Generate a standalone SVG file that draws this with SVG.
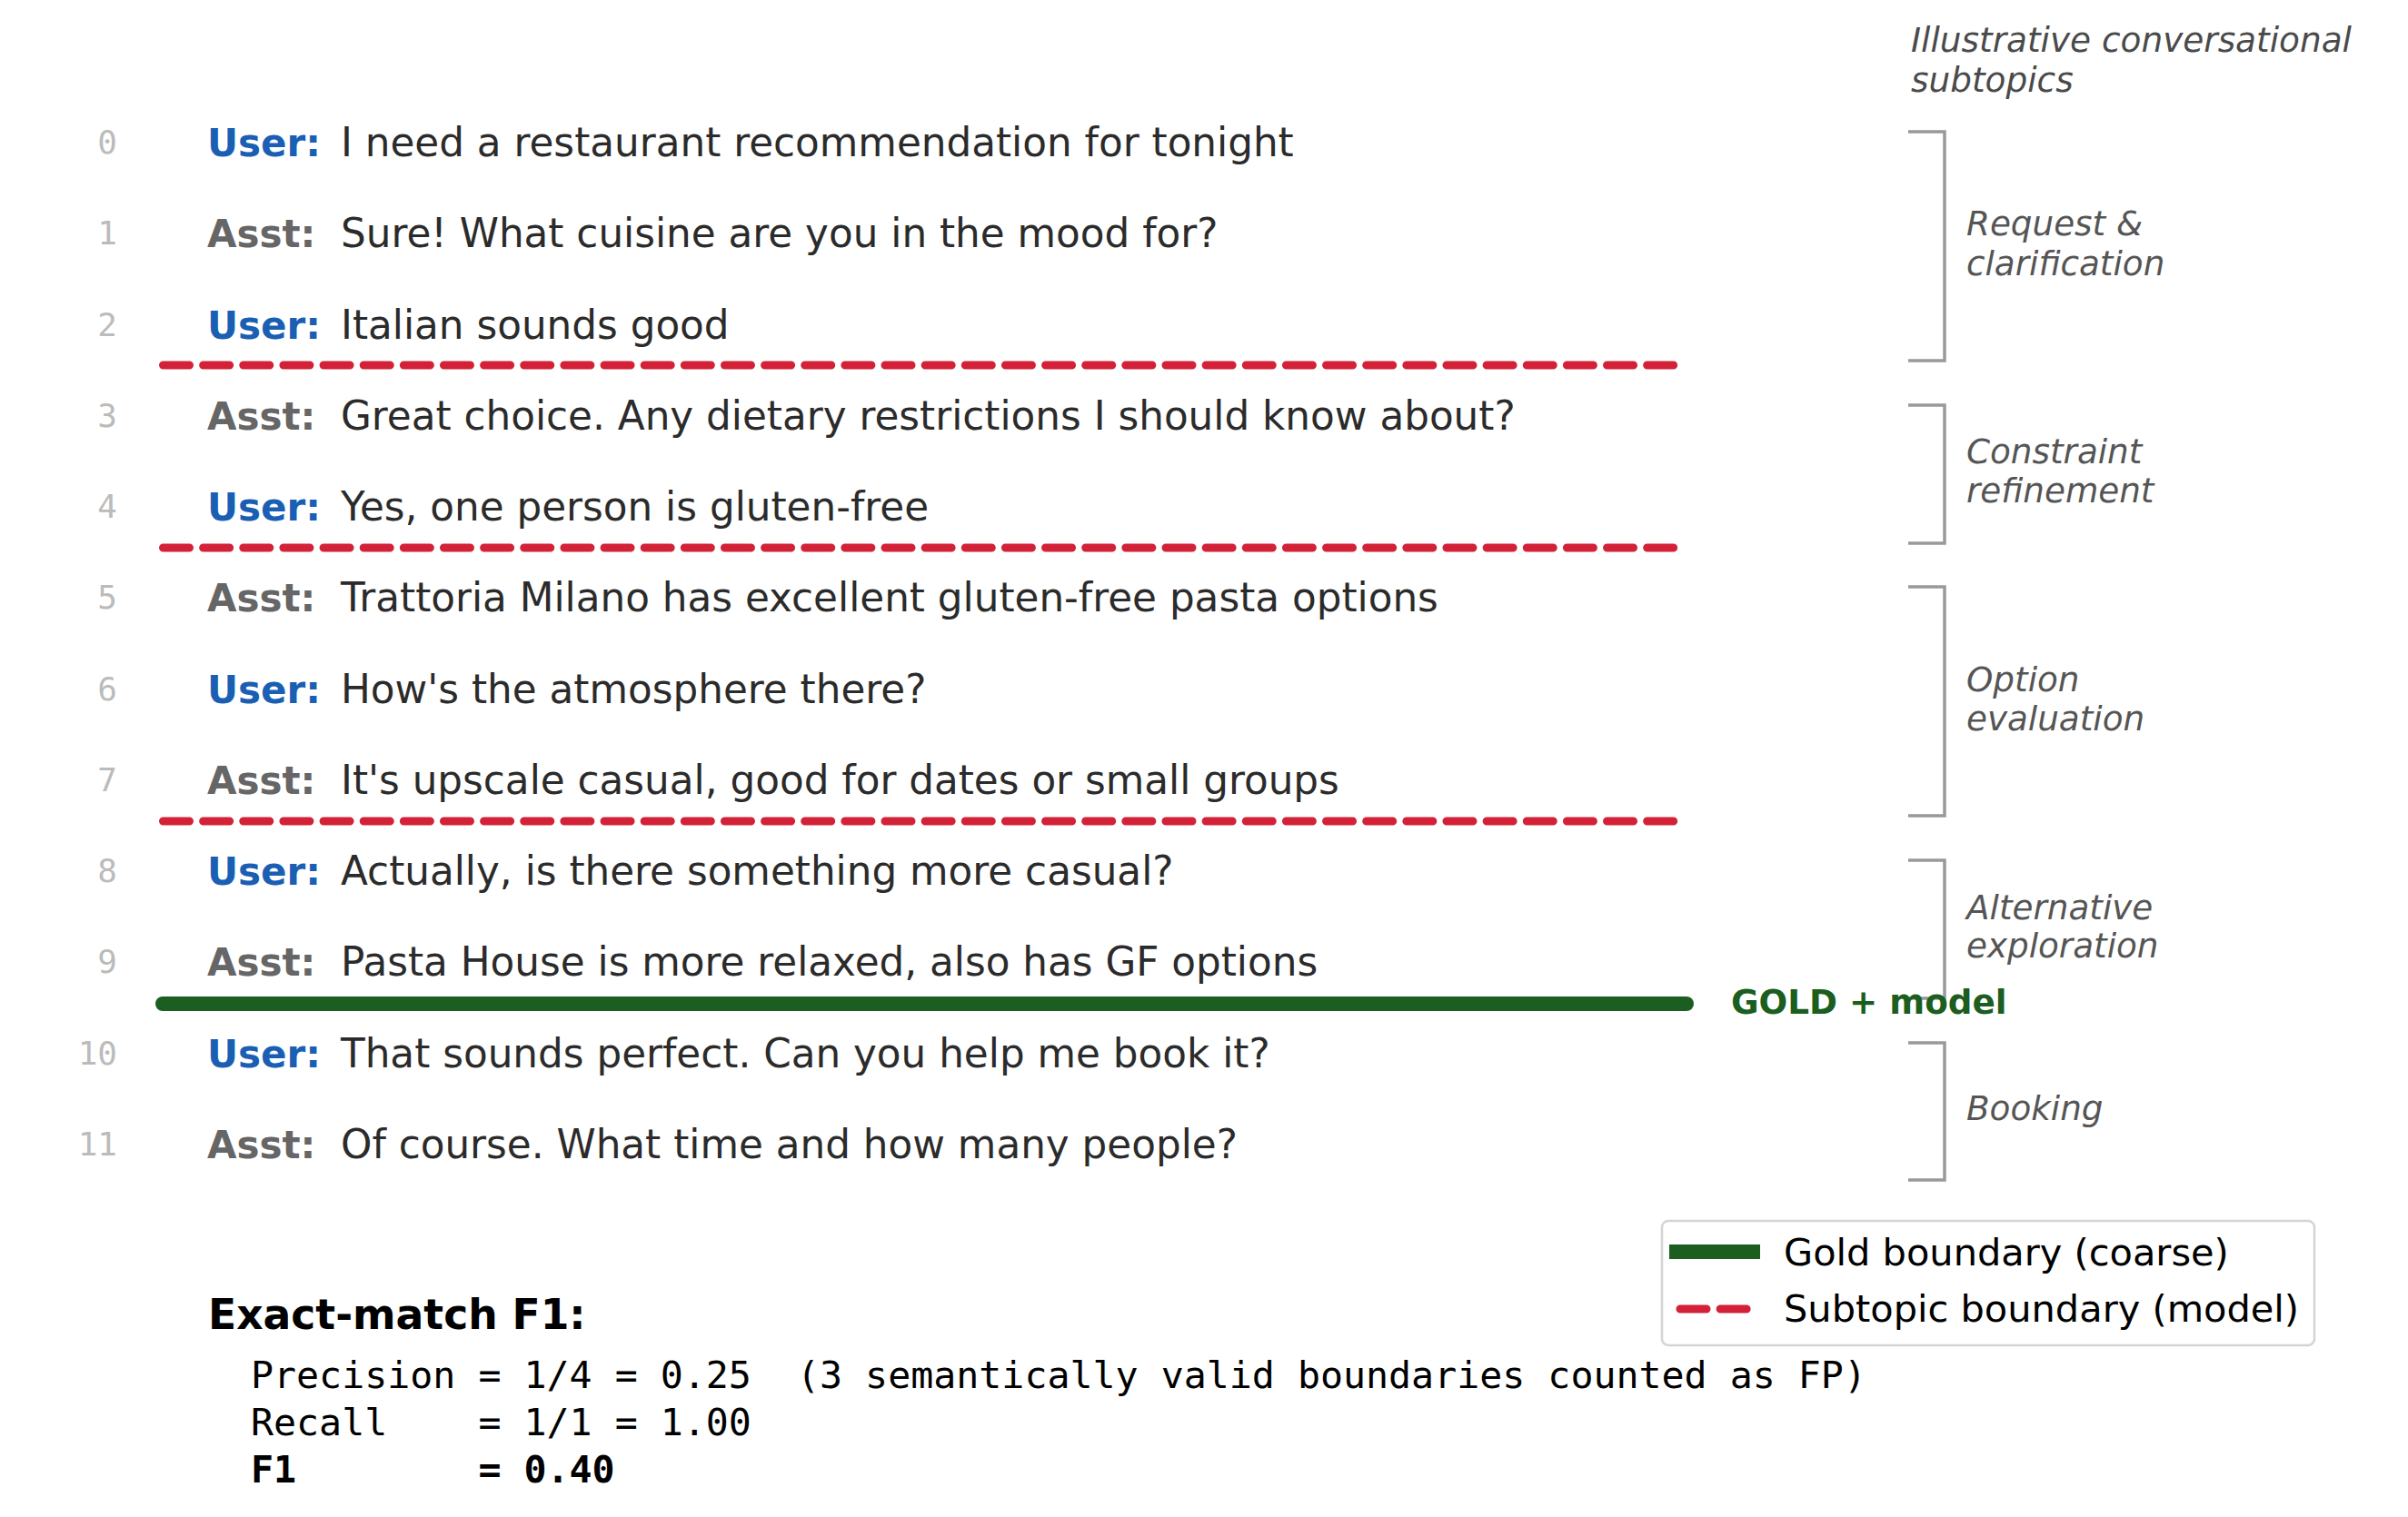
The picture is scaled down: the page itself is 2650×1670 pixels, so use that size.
<svg xmlns="http://www.w3.org/2000/svg" width="2650" height="1670" viewBox="0 0 2650 1670">
<style>
.num{font-family:"DejaVu Sans Mono",monospace;font-size:36px;fill:#bbbbbb;text-anchor:end}
.user{font-family:"DejaVu Sans",sans-serif;font-weight:bold;font-size:42px;fill:#1a5fb4}
.asst{font-family:"DejaVu Sans",sans-serif;font-weight:bold;font-size:42px;fill:#666666}
.msg{font-family:"DejaVu Sans",sans-serif;font-size:43.7px;fill:#2b2b2b}
.brk{fill:none;stroke:#999999;stroke-width:3.5}
.lbl{font-family:"DejaVu Sans",sans-serif;font-style:italic;font-size:37.3px;fill:#555555}
.hdr{font-family:"DejaVu Sans",sans-serif;font-style:italic;font-size:37.4px;fill:#4a4a4a}
.model{stroke:#d32237;stroke-width:9;stroke-linecap:round;stroke-dasharray:29 15.14;fill:none}
.gold{stroke:#1b5e20;stroke-width:16;stroke-linecap:round;fill:none}
.goldtxt{font-family:"DejaVu Sans",sans-serif;font-weight:bold;font-size:37.3px;fill:#1b5e20}
.leg{font-family:"DejaVu Sans",sans-serif;font-size:41.5px;fill:#000000}
.mono{font-family:"DejaVu Sans Mono",monospace;font-size:41.6px;fill:#000000}
.title{font-family:"DejaVu Sans",sans-serif;font-weight:bold;font-size:45.6px;fill:#000000}
</style>
<rect x="0" y="0" width="2650" height="1670" fill="#ffffff"/>

<g id="header">
<text class="hdr" x="2103" y="57">Illustrative conversational</text>
<text class="hdr" x="2103" y="101">subtopics</text>
</g>

<g id="brackets">
<g id="subtopic-request">
<polyline class="brk" points="2100,145 2140,145 2140,397 2100,397"/>
<text class="lbl" x="2164" y="259">Request &amp;</text>
<text class="lbl" x="2164" y="303">clarification</text>
</g>
<g id="subtopic-constraint">
<polyline class="brk" points="2100,446 2140,446 2140,598 2100,598"/>
<text class="lbl" x="2164" y="510">Constraint</text>
<text class="lbl" x="2164" y="553">refinement</text>
</g>
<g id="subtopic-option">
<polyline class="brk" points="2100,646 2140,646 2140,898 2100,898"/>
<text class="lbl" x="2164" y="761">Option</text>
<text class="lbl" x="2164" y="804">evaluation</text>
</g>
<g id="subtopic-alternative">
<polyline class="brk" points="2100,947 2140,947 2140,1099 2100,1099"/>
<text class="lbl" x="2164" y="1012">Alternative</text>
<text class="lbl" x="2164" y="1054">exploration</text>
</g>
<g id="subtopic-booking">
<polyline class="brk" points="2100,1148 2140,1148 2140,1299 2100,1299"/>
<text class="lbl" x="2164" y="1233">Booking</text>
</g>
</g>

<g id="turns">
<g id="turn-0"><text class="num" x="129" y="169">0</text><text class="user" x="228" y="172">User:</text><text class="msg" x="375" y="172">I need a restaurant recommendation for tonight</text></g>
<g id="turn-1"><text class="num" x="129" y="269">1</text><text class="asst" x="228" y="272">Asst:</text><text class="msg" x="375" y="272">Sure! What cuisine are you in the mood for?</text></g>
<g id="turn-2"><text class="num" x="129" y="370">2</text><text class="user" x="228" y="373">User:</text><text class="msg" x="375" y="373">Italian sounds good</text></g>
<g id="turn-3"><text class="num" x="129" y="470">3</text><text class="asst" x="228" y="473">Asst:</text><text class="msg" x="375" y="473">Great choice. Any dietary restrictions I should know about?</text></g>
<g id="turn-4"><text class="num" x="129" y="570">4</text><text class="user" x="228" y="573">User:</text><text class="msg" x="375" y="573">Yes, one person is gluten-free</text></g>
<g id="turn-5"><text class="num" x="129" y="670">5</text><text class="asst" x="228" y="673">Asst:</text><text class="msg" x="375" y="673">Trattoria Milano has excellent gluten-free pasta options</text></g>
<g id="turn-6"><text class="num" x="129" y="771">6</text><text class="user" x="228" y="774">User:</text><text class="msg" x="375" y="774">How's the atmosphere there?</text></g>
<g id="turn-7"><text class="num" x="129" y="871">7</text><text class="asst" x="228" y="874">Asst:</text><text class="msg" x="375" y="874">It's upscale casual, good for dates or small groups</text></g>
<g id="turn-8"><text class="num" x="129" y="971">8</text><text class="user" x="228" y="974">User:</text><text class="msg" x="375" y="974">Actually, is there something more casual?</text></g>
<g id="turn-9"><text class="num" x="129" y="1071">9</text><text class="asst" x="228" y="1074">Asst:</text><text class="msg" x="375" y="1074">Pasta House is more relaxed, also has GF options</text></g>
<g id="turn-10"><text class="num" x="129" y="1172">10</text><text class="user" x="228" y="1175">User:</text><text class="msg" x="375" y="1175">That sounds perfect. Can you help me book it?</text></g>
<g id="turn-11"><text class="num" x="129" y="1272">11</text><text class="asst" x="228" y="1275">Asst:</text><text class="msg" x="375" y="1275">Of course. What time and how many people?</text></g>
</g>

<g id="connectors">
<line class="model" x1="179.5" y1="402" x2="1842.5" y2="402"/>
<line class="model" x1="179.5" y1="603" x2="1842.5" y2="603"/>
<line class="model" x1="179.5" y1="904" x2="1842.5" y2="904"/>
<line class="gold" x1="179" y1="1105" x2="1856" y2="1105"/>
</g>

<g id="gold-label">
<text class="goldtxt" x="1905" y="1116">GOLD + model</text>
</g>

<g id="legend">
<rect x="1829" y="1344" width="718" height="137" rx="7" ry="7" fill="#ffffff" stroke="#d4d4d4" stroke-width="2.5"/>
<line x1="1837" y1="1378" x2="1937" y2="1378" stroke="#1b5e20" stroke-width="16"/>
<line class="model" x1="1849" y1="1441" x2="1933" y2="1441"/>
<text class="leg" x="1963" y="1393">Gold boundary (coarse)</text>
<text class="leg" x="1963" y="1455">Subtopic boundary (model)</text>
</g>

<g id="metrics">
<text class="title" x="229" y="1463">Exact-match F1:</text>
<text class="mono" x="276" y="1528" xml:space="preserve">Precision = 1/4 = 0.25  (3 semantically valid boundaries counted as FP)</text>
<text class="mono" x="276" y="1580" xml:space="preserve">Recall    = 1/1 = 1.00</text>
<text class="mono" x="276" y="1632" font-weight="bold" xml:space="preserve">F1        = 0.40</text>
</g>
</svg>
